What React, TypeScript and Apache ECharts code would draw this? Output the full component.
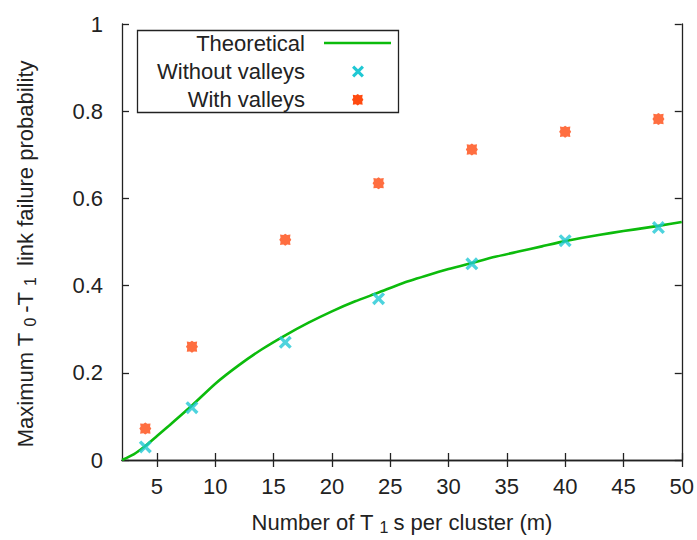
import React, { useEffect, useRef } from "react";
import * as echarts from "echarts";

// Theoretical curve
const theoM = [2, 3, 4, 5, 6, 8, 10, 12, 14, 16, 18, 20, 22, 24, 26, 28, 30, 32, 34, 36, 38, 40, 42, 44, 46, 48, 50];
const theoP = [0, 0.013, 0.032, 0.055, 0.078, 0.125, 0.175, 0.217, 0.254, 0.286, 0.315, 0.341, 0.364, 0.384, 0.405, 0.422, 0.438, 0.452, 0.466, 0.478, 0.49, 0.502, 0.512, 0.521, 0.529, 0.537, 0.546];

const clusterM = [4, 8, 16, 24, 32, 40, 48];
const withoutValleys = [0.03, 0.12, 0.27, 0.37, 0.45, 0.503, 0.533];
const withValleys = [0.072, 0.26, 0.505, 0.635, 0.712, 0.753, 0.782];

const xTicks = [5, 10, 15, 20, 25, 30, 35, 40, 45, 50];

const legendNames = ["Theoretical", "Without valleys", "With valleys"];

const GREEN = "#0cbb0c";
const CYAN = "#20c8d4";
const ORANGE = "#ff4a10";
const FONT = "Liberation Sans";
const TXT = "#222";
const FS = 22;

const crossPath =
  "M0,2.2 L2.2,0 L6,3.8 L9.8,0 L12,2.2 L8.2,6 L12,9.8 L9.8,12 L6,8.2 L2.2,12 L0,9.8 L3.8,6 Z";

function starPath(): string {
  const pts: string[] = [];
  for (let i = 0; i < 16; i++) {
    const a = (i * Math.PI) / 8;
    let r: number;
    if (i % 2 === 1) r = 5.3;
    else r = (i / 2) % 2 === 1 ? 7.6 : 6.2;
    const x = 6 + r * Math.cos(a);
    const y = 6 + r * Math.sin(a);
    pts.push((i === 0 ? "M" : "L") + x.toFixed(2) + "," + y.toFixed(2));
  }
  return pts.join(" ") + " Z";
}
const star = starPath();

echarts.graphic.registerShape("xmk", (echarts.graphic as any).extendPath(crossPath, {}));
echarts.graphic.registerShape("stmk", (echarts.graphic as any).extendPath(star, {}));

export default function App() {
  const ref = useRef<HTMLDivElement>(null);
  useEffect(() => {
    if (!ref.current) return;
    const chart = echarts.init(ref.current, undefined, { renderer: "svg" });
    const axisLine = { show: true, lineStyle: { color: TXT, width: 1.3 } };
    const tick = { show: true, inside: true, length: 7, lineStyle: { color: TXT, width: 1.3 } };
    const label = { color: TXT, fontFamily: FONT, fontSize: FS };
    const sub = { fontFamily: FONT, fontSize: 16, color: TXT, padding: [9, 5, 0, 6] };
    const option: any = {
      animation: false,
      backgroundColor: "#ffffff",
      grid: { left: 122, right: 14, top: 24, bottom: 78 },
      xAxis: [
        {
          type: "value",
          min: 2,
          max: 50,
          position: "bottom",
          axisLine,
          axisTick: { ...tick, customValues: xTicks },
          axisLabel: { ...label, margin: 15, customValues: xTicks },
          splitLine: { show: false },
          name: "Number of T{sub|1}s per cluster (m)",
          nameLocation: "middle",
          nameGap: 50,
          nameTextStyle: {
            color: TXT,
            fontFamily: FONT,
            fontSize: FS,
            rich: { sub },
          },
        },
        {
          type: "value",
          min: 2,
          max: 50,
          position: "top",
          axisLine,
          axisTick: { ...tick, customValues: xTicks },
          axisLabel: { show: false },
          splitLine: { show: false },
        },
      ],
      yAxis: [
        {
          type: "value",
          min: 0,
          max: 1,
          interval: 0.2,
          position: "left",
          axisLine,
          axisTick: tick,
          axisLabel: { ...label, margin: 19 },
          splitLine: { show: false },
          name: "Maximum T{sub|0}-T{sub|1} link failure probability",
          nameLocation: "middle",
          nameGap: 84,
          nameTextStyle: {
            color: TXT,
            fontFamily: FONT,
            fontSize: FS,
            padding: [0, 24, 0, 0],
            rich: { sub },
          },
        },
        {
          type: "value",
          min: 0,
          max: 1,
          interval: 0.2,
          position: "right",
          axisLine,
          axisTick: tick,
          axisLabel: { show: false },
          splitLine: { show: false },
        },
      ],
      series: [
        {
          name: legendNames[0],
          type: "line",
          data: theoM.map((m, i) => [m, theoP[i]]),
          showSymbol: false,
          smooth: 0.2,
          lineStyle: { color: GREEN, width: 2.6 },
          z: 2,
        },
        {
          name: legendNames[1],
          type: "scatter",
          data: clusterM.map((m, i) => [m, withoutValleys[i]]),
          symbol: "path://" + crossPath,
          symbolSize: 13,
          itemStyle: { color: CYAN },
          z: 3,
        },
        {
          name: legendNames[2],
          type: "scatter",
          data: clusterM.map((m, i) => [m, withValleys[i]]),
          symbol: "path://" + star,
          symbolSize: 12,
          itemStyle: { color: ORANGE },
          z: 3,
        },
      ],
      graphic: [
        {
          type: "rect",
          shape: { x: 137.5, y: 30.5, width: 261, height: 82 },
          style: { fill: "#fff", stroke: TXT, lineWidth: 1.3 },
          z: 10,
        },
        ...legendNames.map((n, i) => ({
          type: "text",
          x: 305,
          y: 43 + i * 28,
          style: {
            text: n,
            fill: TXT,
            font: `${FS}px ${FONT}`,
            textAlign: "right",
            textVerticalAlign: "middle",
          },
          z: 11,
        })),
        {
          type: "line",
          shape: { x1: 324, y1: 43, x2: 391, y2: 43 },
          style: { stroke: GREEN, lineWidth: 2.6 },
          z: 11,
        },
        {
          type: "xmk",
          x: 352,
          y: 65.5,
          style: { fill: CYAN },
          z: 11,
        },
        {
          type: "stmk",
          x: 352.2,
          y: 94.2,
          scaleX: 0.92,
          scaleY: 0.92,
          style: { fill: ORANGE },
          z: 11,
        },
      ],
    };
    chart.setOption(option);
    return () => chart.dispose();
  }, []);
  return (
    <div
      ref={ref}
      style={{ position: "fixed", left: 0, top: 0, width: 697, height: 540 }}
    />
  );
}
